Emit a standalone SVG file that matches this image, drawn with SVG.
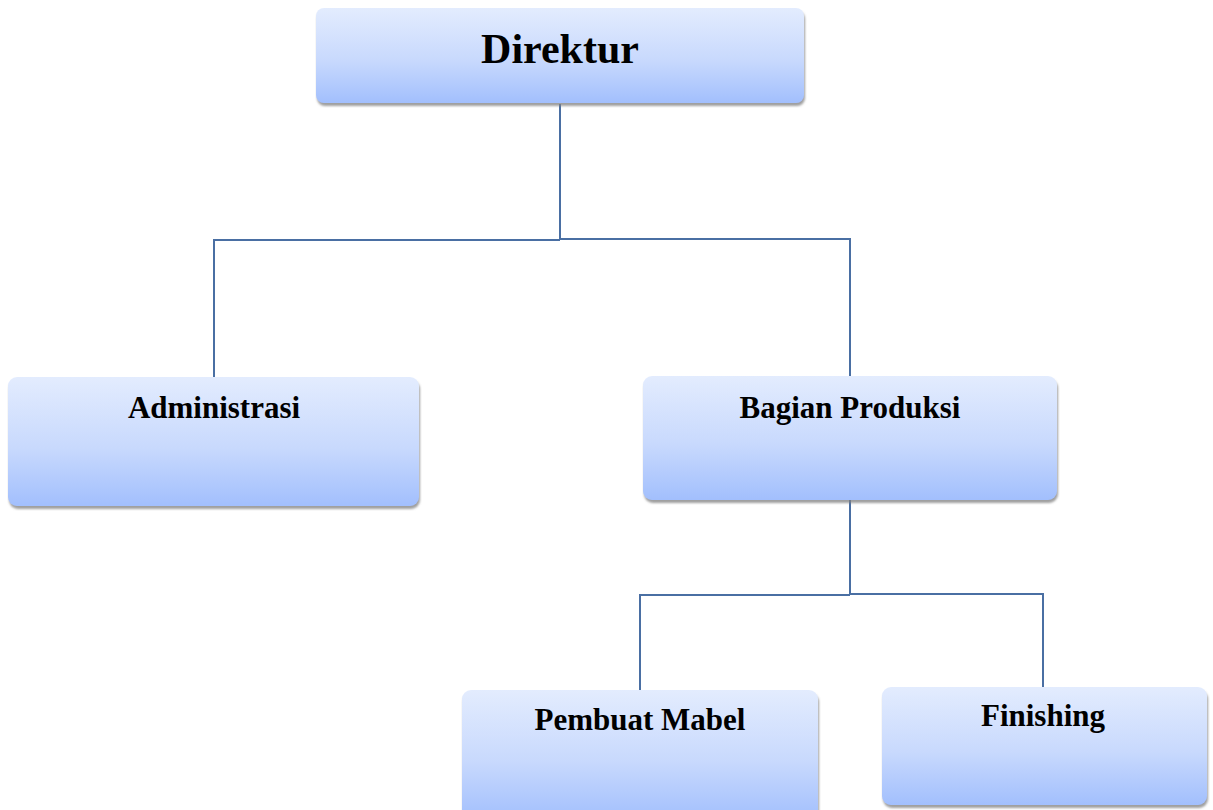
<svg xmlns="http://www.w3.org/2000/svg" width="1213" height="810" viewBox="0 0 1213 810">
<defs>
<linearGradient id="g" x1="0" y1="0" x2="0" y2="1">
<stop offset="0" stop-color="#e3ecfe"/>
<stop offset="0.55" stop-color="#c8d9fd"/>
<stop offset="1" stop-color="#a2bffd"/>
</linearGradient>
<filter id="sh" x="-5%" y="-10%" width="110%" height="125%">
<feGaussianBlur in="SourceAlpha" stdDeviation="1.2"/>
<feOffset dx="1" dy="3" result="b"/>
<feFlood flood-color="#808080" flood-opacity="0.75"/>
<feComposite in2="b" operator="in"/>
<feMerge><feMergeNode/><feMergeNode in="SourceGraphic"/></feMerge>
</filter>
</defs>
<style>
.box{fill:url(#g);filter:url(#sh)}
.t{font-family:"Liberation Serif","Times New Roman",serif;font-weight:bold;fill:#000;text-anchor:middle;font-size:31px}
.c{fill:none;stroke:#4a6fa3;stroke-width:2}
</style>
<rect width="1213" height="810" fill="#fff"/>
<g id="connectors">
<path class="c" d="M560 104 V239 M214 377 V240 H560 M560 239 H850 V376"/>
<path class="c" d="M850 500 V594 M640 695 V595 H850 M850 594 H1043 V689"/>
</g>
<g id="direktur">
<rect class="box" x="316" y="8" width="488" height="95" rx="8"/>
<text class="t" x="560" y="63" style="font-size:42px">Direktur</text>
</g>
<g id="administrasi">
<rect class="box" x="8" y="377" width="411" height="129" rx="9"/>
<text class="t" x="214" y="418">Administrasi</text>
</g>
<g id="bagian-produksi">
<rect class="box" x="643" y="376" width="414" height="124" rx="9"/>
<text class="t" x="850" y="418">Bagian Produksi</text>
</g>
<g id="pembuat-mabel">
<rect class="box" x="462" y="690" width="356" height="130" rx="9"/>
<text class="t" x="640" y="730">Pembuat Mabel</text>
</g>
<g id="finishing">
<rect class="box" x="882" y="687" width="325" height="118" rx="9"/>
<text class="t" x="1043" y="726">Finishing</text>
</g>
</svg>
